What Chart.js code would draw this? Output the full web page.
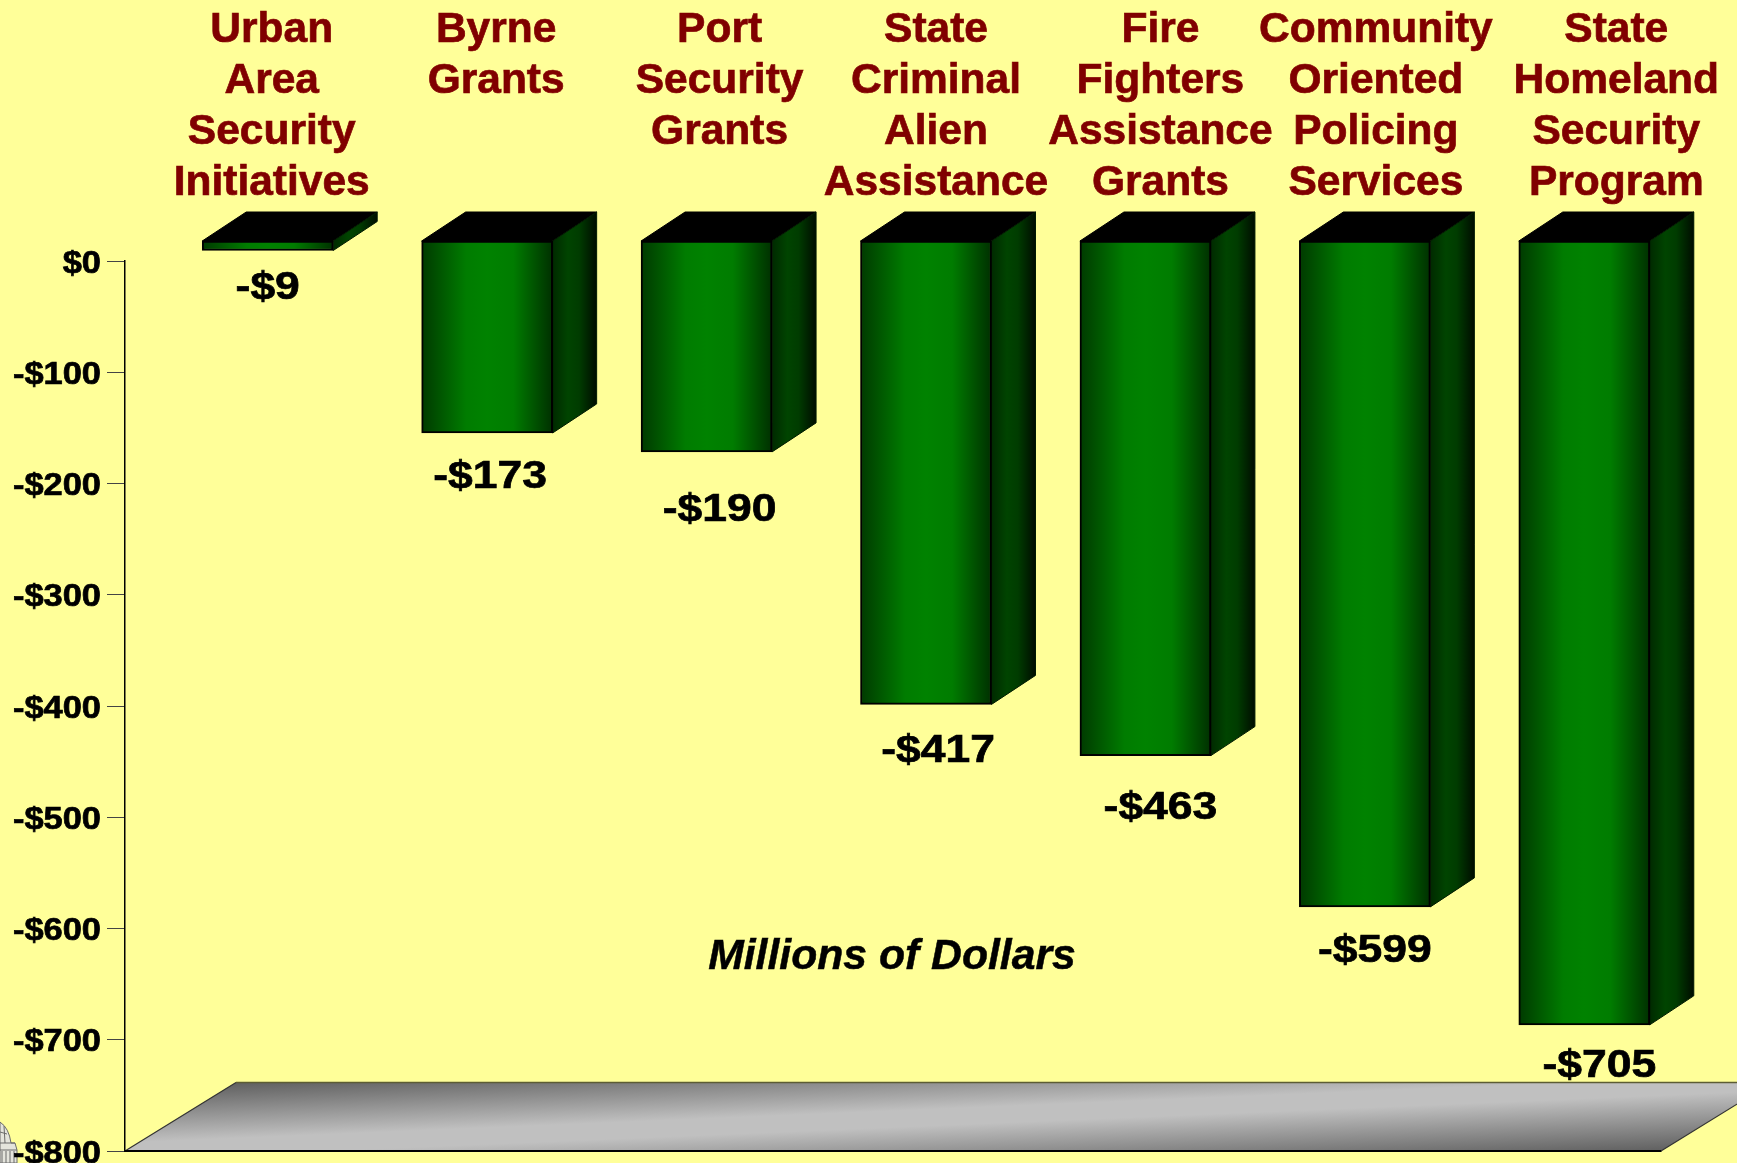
<!DOCTYPE html>
<html><head><meta charset="utf-8">
<script src="https://cdn.jsdelivr.net/npm/chart.js@4"></script>
<style>html,body{margin:0;padding:0;background:#FFFF99}canvas{display:block}</style>
</head><body><canvas id="c" width="1737" height="1163"></canvas>
<script>
const categories=[["Urban","Area","Security","Initiatives"],["Byrne","Grants"],["Port","Security","Grants"],["State","Criminal","Alien","Assistance"],["Fire","Fighters","Assistance","Grants"],["Community","Oriented","Policing","Services"],["State","Homeland","Security","Program"]];
const values=[-9,-173,-190,-417,-463,-599,-705];
const valueLabels=["-$9","-$173","-$190","-$417","-$463","-$599","-$705"];
const yTicks=[0,-100,-200,-300,-400,-500,-600,-700,-800];
const unitNote="Millions of Dollars";

// styling and manual label placement
const shift={x:33,y:-20.5}, depth={x:44,y:-29};
const catShift=[4,9,13,10,15,11,32];
const valShift=[{x:0,y:38},{x:3,y:44},{x:13,y:58},{x:12,y:47},{x:15,y:53},{x:10,y:44},{x:15,y:41}];
const FONT='"Liberation Sans",Arial,sans-serif';

function stretched(ctx,txt,x,y,size,sx,color,align){
  ctx.save();ctx.font='bold '+size+'px '+FONT;ctx.fillStyle=color;ctx.strokeStyle=color;ctx.lineWidth=.7;ctx.textBaseline='middle';ctx.textAlign=align||'center';
  ctx.translate(x,y);ctx.scale(sx,1);ctx.fillText(txt,0,0);ctx.strokeText(txt,0,0);ctx.restore();
}
const frontFill=(c)=>{
  const ch=c.chart,a=ch.chartArea;if(!a||!ch.scales.x)return '#008000';
  const cx=ch.scales.x.getPixelForValue(c.dataIndex),w=131;
  const g=ch.ctx.createLinearGradient(cx-w/2,0,cx+w/2,0);
  g.addColorStop(0,'#003a00');g.addColorStop(.34,'#007c00');g.addColorStop(.5,'#008200');g.addColorStop(.7,'#007c00');g.addColorStop(1,'#003000');
  return g;
};
const scene={
  id:'scene',
  beforeDatasetsDraw(ch){
    const ctx=ch.ctx,a=ch.chartArea;
    // floor
    const L=a.left,R=a.right,B=a.bottom,T=1082.5,dx=111;
    const W=R+dx-L,H=B-T,len=Math.hypot(W,H),ux=H/len,uy=W/len,cx=L+W/2,cy=T+H/2,ext=W*H/len;
    const g=ctx.createLinearGradient(cx-ux*ext,cy-uy*ext,cx+ux*ext,cy+uy*ext);
    g.addColorStop(0,'#585858');g.addColorStop(.44,'#c0c0c0');g.addColorStop(.56,'#c0c0c0');g.addColorStop(1,'#585858');
    ctx.save();
    ctx.beginPath();ctx.moveTo(L,B);ctx.lineTo(L+dx,T);ctx.lineTo(R+dx,T);ctx.lineTo(R,B);ctx.closePath();
    ctx.fillStyle=g;ctx.fill();
    ctx.strokeStyle='#333';ctx.lineWidth=1.2;
    ctx.beginPath();ctx.moveTo(L,B);ctx.lineTo(L+dx,T);ctx.moveTo(R,B);ctx.lineTo(R+dx,T);ctx.stroke();
    ctx.strokeStyle='#5c5c34';ctx.lineWidth=1.6;ctx.beginPath();ctx.moveTo(L+dx,T);ctx.lineTo(1737,T);ctx.stroke();
    ctx.strokeStyle='#000';ctx.lineWidth=2;ctx.beginPath();ctx.moveTo(L,B);ctx.lineTo(R,B);ctx.stroke();
    ctx.restore();
    // 3D sides and tops of the bars
    ctx.save();ctx.translate(shift.x,shift.y);
    ch.getDatasetMeta(0).data.forEach(b=>{
      const l=b.x-b.width/2,r=b.x+b.width/2,t=b.base,bt=b.y;
      ctx.fillStyle='#000';ctx.strokeStyle='#000';ctx.lineWidth=1;
      ctx.beginPath();ctx.moveTo(l,t);ctx.lineTo(l+depth.x,t+depth.y);ctx.lineTo(r+depth.x,t+depth.y);ctx.lineTo(r,t);ctx.closePath();ctx.fill();ctx.stroke();
      const sg=ctx.createLinearGradient(r,0,r+depth.x,0);
      sg.addColorStop(0,'#002a00');sg.addColorStop(.35,'#004400');sg.addColorStop(.6,'#003c00');sg.addColorStop(1,'#000c00');
      ctx.fillStyle=sg;
      ctx.beginPath();ctx.moveTo(r,t);ctx.lineTo(r+depth.x,t+depth.y);ctx.lineTo(r+depth.x,bt+depth.y);ctx.lineTo(r,bt);ctx.closePath();ctx.fill();
      ctx.strokeStyle='#001a00';ctx.stroke();
    });
    ctx.restore();
    ctx.save();ctx.translate(shift.x,shift.y);
  },
  afterDatasetsDraw(ch){
    const ctx=ch.ctx;
    ctx.restore();
    const xs=ch.scales.x,ys=ch.scales.y;
    // bottom-left emblem sliver
    ctx.save();ctx.fillStyle='#e4e4dc';ctx.strokeStyle='#6a6a6a';ctx.lineWidth=1;
    ctx.beginPath();ctx.moveTo(0,1122);ctx.quadraticCurveTo(9,1128,11,1143);ctx.lineTo(15,1143);ctx.lineTo(17,1150);ctx.lineTo(17,1163);ctx.lineTo(0,1163);ctx.closePath();ctx.fill();ctx.stroke();
    ctx.beginPath();ctx.moveTo(0,1132);ctx.lineTo(7,1134);ctx.moveTo(4,1126);ctx.lineTo(5,1143);ctx.moveTo(0,1143);ctx.lineTo(15,1143);ctx.moveTo(0,1150);ctx.lineTo(17,1150);
    for(let k=2;k<17;k+=4){ctx.moveTo(k,1151);ctx.lineTo(k,1163);}ctx.stroke();ctx.restore();
    // category labels
    categories.forEach((lines,i)=>{
      const cx=xs.getPixelForValue(i)+33+catShift[i];
      lines.forEach((s,j)=>{
        stretched(ctx,s,cx,30+j*51.2,42.5,1,'#800000');
      });
    });
    // value labels
    ch.getDatasetMeta(0).data.forEach((b,i)=>{
      stretched(ctx,valueLabels[i],b.x+shift.x+valShift[i].x,b.y+shift.y+valShift[i].y,39,1.14,'#000');
    });
    // y tick labels
    ys.ticks.forEach((t,i)=>{
      stretched(ctx,t.label,101,ys.getPixelForTick(i)+3,31,1.11,'#000','right');
    });
    // note
    ctx.save();ctx.font='italic bold 42.7px '+FONT;ctx.fillStyle='#000';ctx.strokeStyle='#000';ctx.lineWidth=.5;ctx.textAlign='center';ctx.textBaseline='middle';
    ctx.fillText(unitNote,892,957);ctx.strokeText(unitNote,892,957);ctx.restore();
  }
};
new Chart(document.getElementById('c'),{
  type:'bar',
  data:{labels:categories.map(c=>c.join(' ')),datasets:[{label:unitNote,data:values,barThickness:131,clip:false,
    backgroundColor:frontFill,borderColor:'#000',borderWidth:2,borderSkipped:false}]},
  options:{
    responsive:false,animation:false,
    layout:{padding:{top:261,right:76,left:0,bottom:0}},
    plugins:{legend:{display:false},title:{display:false},tooltip:{enabled:false}},
    scales:{
      x:{position:'bottom',grid:{display:false,drawTicks:false},border:{display:true,color:'#000',width:1.5},
         ticks:{display:false},afterFit(s){s.height=12;}},
      y:{min:-800,max:0,afterBuildTicks(s){s.ticks=yTicks.map(v=>({value:v}));},
         grid:{drawOnChartArea:false,drawTicks:true,tickLength:18,color:'#444',lineWidth:1},
         border:{display:true,color:'#000',width:1.5},
         ticks:{display:false,callback:v=>v===0?'$0':'-$'+Math.abs(v)},afterFit(s){s.width=125;}}
    }
  },
  plugins:[scene]
});
</script></body></html>
